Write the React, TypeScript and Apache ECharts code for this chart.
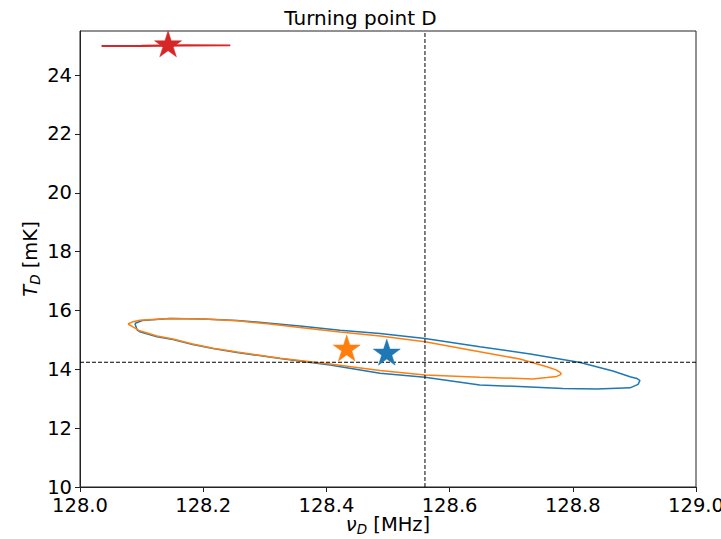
import React, { useEffect, useRef } from "react";
import * as echarts from "echarts";

const xTicks = [128.0, 128.2, 128.4, 128.6, 128.8, 129.0];
const yTicks = [10, 12, 14, 16, 18, 20, 22, 24];
const xMin = 128.0;
const xMax = 129.0;
const yMin = 10;
const yMax = 25.5;

const blueContour: [number, number][] = [
  [128.089, 15.56], [128.101, 15.66], [128.146, 15.73], [128.2, 15.71], [128.255, 15.66],
  [128.308, 15.57], [128.357, 15.47], [128.422, 15.33], [128.487, 15.22], [128.56, 15.05],
  [128.649, 14.77], [128.731, 14.52], [128.812, 14.23], [128.865, 13.94], [128.893, 13.75],
  [128.904, 13.69], [128.909, 13.62], [128.906, 13.49], [128.893, 13.37], [128.839, 13.33],
  [128.784, 13.35], [128.731, 13.4], [128.649, 13.47], [128.56, 13.73], [128.487, 13.87],
  [128.406, 14.15], [128.325, 14.37], [128.255, 14.57], [128.216, 14.71], [128.183, 14.84],
  [128.151, 15.01], [128.125, 15.11], [128.097, 15.28], [128.093, 15.33], [128.089, 15.56],
];

const orangeContour: [number, number][] = [
  [128.078, 15.54], [128.086, 15.62], [128.097, 15.67], [128.146, 15.73], [128.2, 15.71],
  [128.255, 15.65], [128.308, 15.54], [128.357, 15.42], [128.422, 15.27], [128.487, 15.13],
  [128.56, 14.94], [128.633, 14.66], [128.714, 14.35], [128.758, 14.09], [128.773, 13.98],
  [128.78, 13.89], [128.781, 13.83], [128.774, 13.76], [128.758, 13.72], [128.735, 13.67],
  [128.714, 13.69], [128.649, 13.73], [128.56, 13.81], [128.487, 13.96], [128.406, 14.18],
  [128.325, 14.38], [128.255, 14.59], [128.216, 14.72], [128.183, 14.86], [128.151, 15.03],
  [128.125, 15.13], [128.097, 15.31], [128.086, 15.44], [128.078, 15.54],
];

const redContour: [number, number][] = [
  [128.035, 24.99], [128.1, 24.99], [128.17, 25.0], [128.244, 25.01],
  [128.17, 25.02], [128.1, 25.0], [128.035, 24.99],
];

const blueStar: [number, number] = [128.498, 14.54];
const orangeStar: [number, number] = [128.433, 14.68];
const redStar: [number, number] = [128.143, 25.02];
const truthNu = 128.56;
const truthT = 14.24;

const BLUE = "#1f77b4";
const ORANGE = "#ff7f0e";
const RED = "#d62728";
const FONT = "DejaVu Sans";

const STAR =
  "path://M0,-1L0.2245,-0.309L0.951,-0.309L0.363,0.118L0.588,0.809L0,0.382L-0.588,0.809L-0.363,0.118L-0.951,-0.309L-0.2245,-0.309Z";

export default function App() {
  const ref = useRef<HTMLDivElement>(null);
  useEffect(() => {
    if (!ref.current) return;
    const chart = echarts.init(ref.current, undefined, { renderer: "svg" });
    const contour = (data: [number, number][], color: string, width: number) => ({
      type: "line",
      data,
      showSymbol: false,
      symbol: "none",
      smooth: false,
      lineStyle: { color, width },
      silent: true,
      z: 2,
    });
    const star = (p: [number, number], color: string) => ({
      type: "scatter",
      data: [p],
      symbol: STAR,
      symbolSize: [27, 26],
      symbolOffset: [0, -1.3],
      itemStyle: { color, opacity: 1, borderColor: color, borderWidth: 0.5 },
      silent: true,
      z: 5,
    });
    const nameRich = {
      i: { fontFamily: FONT, fontSize: 19.5, fontStyle: "italic", color: "#000", lineHeight: 24 },
      s: {
        fontFamily: FONT,
        fontSize: 13.5,
        fontStyle: "italic",
        color: "#000",
        verticalAlign: "top",
        padding: [10, 0, 0, 0],
      },
    };
    chart.setOption({
      animation: false,
      title: {
        text: "Turning point D",
        left: "center",
        top: 3,
        textStyle: { fontFamily: FONT, fontSize: 20, fontWeight: "normal", color: "#000" },
      },
      grid: {
        left: 80,
        right: 25,
        top: 31,
        bottom: 52,
        show: true,
        borderColor: "#222",
        borderWidth: 1,
        backgroundColor: "transparent",
        containLabel: false,
        outerBoundsMode: "none",
      },
      xAxis: {
        type: "value",
        min: xMin,
        max: xMax,
        interval: 0.2,
        splitLine: { show: false },
        axisLine: { show: true, lineStyle: { color: "#222", width: 1 } },
        axisTick: { show: true, length: 5, lineStyle: { color: "#222" }, customValues: xTicks },
        axisLabel: {
          customValues: xTicks,
          formatter: (v: number) => v.toFixed(1),
          fontFamily: FONT,
          fontSize: 19.5,
          color: "#000",
          margin: 8,
          hideOverlap: false,
        },
        name: "{i|ν}{s|D} [MHz]",
        nameLocation: "middle",
        nameGap: 25,
        nameMoveOverlap: false,
        nameTextStyle: { fontFamily: FONT, fontSize: 19.5, color: "#000", rich: nameRich },
      },
      yAxis: {
        type: "value",
        min: yMin,
        max: yMax,
        splitLine: { show: false },
        axisLine: { show: true, lineStyle: { color: "#222", width: 1 } },
        axisTick: { show: true, length: 5, lineStyle: { color: "#222" }, customValues: yTicks },
        axisLabel: {
          customValues: yTicks,
          formatter: (v: number) => String(v),
          fontFamily: FONT,
          fontSize: 19.5,
          color: "#000",
          margin: 8,
          hideOverlap: false,
        },
        name: "{i|T}{s|D} [mK]",
        nameLocation: "middle",
        nameGap: 38,
        nameRotate: 90,
        nameMoveOverlap: false,
        nameTextStyle: { fontFamily: FONT, fontSize: 19.5, color: "#000", rich: nameRich },
      },
      series: [
        contour(blueContour, BLUE, 1.5),
        contour(orangeContour, ORANGE, 1.5),
        contour(redContour, RED, 1.8),
        {
          type: "line",
          data: [[truthNu, yMin], [truthNu, yMax]],
          showSymbol: false,
          symbol: "none",
          lineStyle: { color: "#000", width: 1, type: [4, 2] },
          silent: true,
          z: 3,
        },
        {
          type: "line",
          data: [[xMin, truthT], [xMax, truthT]],
          showSymbol: false,
          symbol: "none",
          lineStyle: { color: "#000", width: 1, type: [4, 2] },
          silent: true,
          z: 3,
        },
        star(blueStar, BLUE),
        star(orangeStar, ORANGE),
        star(redStar, RED),
      ],
    });
    return () => chart.dispose();
  }, []);
  return (
    <div
      ref={ref}
      style={{ position: "absolute", left: 0, top: 0, width: 721, height: 539, background: "#fff" }}
    />
  );
}
